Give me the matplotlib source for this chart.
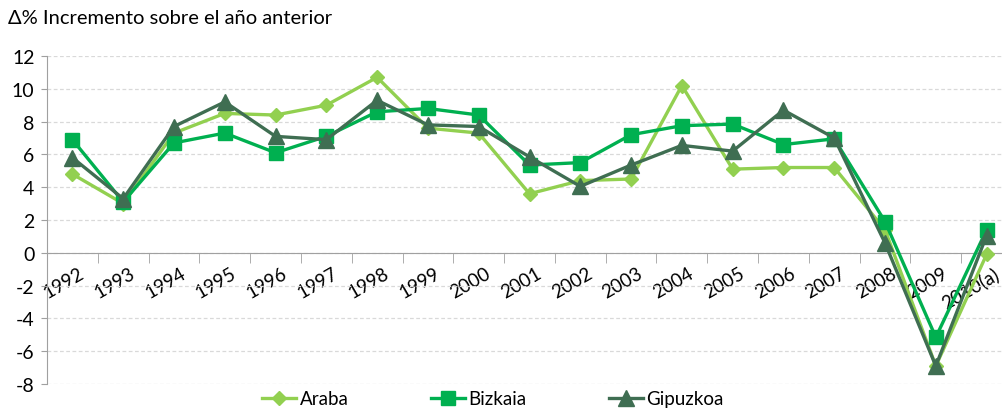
import matplotlib.pyplot as plt
import matplotlib.transforms as mtransforms
import numpy as np

years = ['1992', '1993', '1994', '1995', '1996', '1997', '1998', '1999', '2000', '2001',
         '2002', '2003', '2004', '2005', '2006', '2007', '2008', '2009', '2010(a)']
araba = [4.8, 3.0, 7.3, 8.5, 8.4, 9.0, 10.7, 7.6, 7.3, 3.6,
         4.4, 4.5, 10.2, 5.1, 5.2, 5.2, 1.4, -6.9, -0.1]
bizkaia = [6.9, 3.1, 6.7, 7.3, 6.1, 7.1, 8.6, 8.8, 8.4, 5.35,
           5.5, 7.2, 7.75, 7.85, 6.6, 6.95, 1.9, -5.15, 1.4]
gipuzkoa = [5.8, 3.3, 7.7, 9.2, 7.1, 6.9, 9.3, 7.8, 7.7, 5.85,
            4.05, 5.35, 6.55, 6.2, 8.7, 7.0, 0.6, -6.9, 1.05]

plt.rcParams['font.family'] = ['Lato', 'DejaVu Sans']
plt.rcParams['axes.unicode_minus'] = False

fig = plt.figure(figsize=(10.02, 4.10), dpi=100)
ax = fig.add_axes([47 / 1002, 25 / 410, 965 / 1002, 328 / 410])

x = np.arange(len(years))
ax.plot(x, araba, color='#92D050', lw=2.4, marker='D', ms=7.5, label='Araba', zorder=3)
ax.plot(x, bizkaia, color='#00B050', lw=2.4, marker='s', ms=10, label='Bizkaia', zorder=4)
ax.plot(x, gipuzkoa, color='#3F6E52', lw=2.4, marker='^', ms=11, label='Gipuzkoa', zorder=5)

# spines first: set_position resets the ticks
ax.spines['bottom'].set_position(('data', 0))
ax.spines['bottom'].set_color('#a0a0a0')
ax.spines['left'].set_color('#a0a0a0')
ax.spines['top'].set_visible(False)
ax.spines['right'].set_visible(False)

ax.set_xlim(-0.5, len(years) - 0.5)
ax.set_ylim(-8, 12)
ax.set_yticks(range(-8, 13, 2))
ax.tick_params(axis='y', labelsize=14, length=4, color='#a0a0a0', pad=5)
ax.yaxis.grid(True, linestyle=(0, (3, 2)), color='#d9d9d9', lw=0.9)
ax.set_axisbelow(True)

# year labels on the categories, tick marks between them
ax.set_xticks(x)
ax.set_xticklabels(years)
ax.set_xticks(np.arange(-0.5, len(years), 1.0), minor=True)
ax.tick_params(axis='x', which='major', length=0, pad=8, labelsize=13.5)
ax.tick_params(axis='x', which='minor', length=7, color='#a0a0a0')
shift = mtransforms.ScaledTranslation(6 / 100, 0, fig.dpi_scale_trans)
for lbl in ax.get_xticklabels():
    lbl.set_rotation(30)
    lbl.set_ha('right')
    lbl.set_va('top')
    lbl.set_rotation_mode('anchor')
    lbl.set_transform(lbl.get_transform() + shift)

fig.text(8 / 1002, 1 - 18 / 410, 'Δ% Incremento sobre el año anterior', fontsize=14.5,
         va='center', ha='left')

fig.legend(loc='center', bbox_to_anchor=(0.492, 1 - 400 / 410), ncol=3, frameon=False,
           fontsize=13.5, handlelength=1.8, columnspacing=4.4, handletextpad=0.2)

fig.savefig('out.png', dpi=100)
